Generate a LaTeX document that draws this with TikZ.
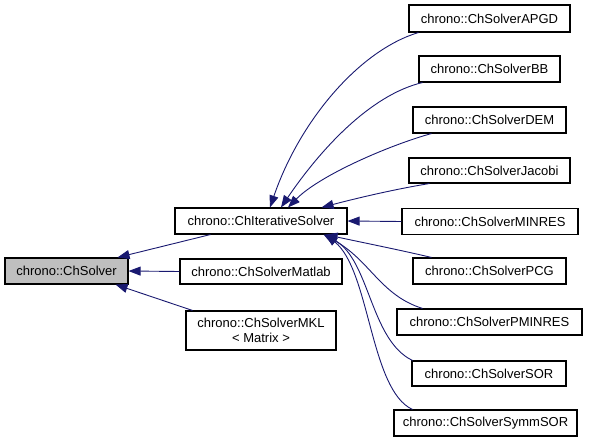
\documentclass[tikz,border=0pt]{standalone}
\usepackage{fontspec}
\setmainfont{Liberation Sans}
\usetikzlibrary{arrows.meta}
\definecolor{edgecol}{HTML}{191970}
\definecolor{basefill}{HTML}{BFBFBF}
\tikzset{
  cls/.style={draw=black, line width=1.1pt, fill=white, inner sep=0pt, align=center,
    font=\fontsize{13}{14.5}\selectfont},
  edge/.style={draw=edgecol, line width=0.9pt, -{Triangle[length=12pt,width=9pt]}},
}
\begin{document}
\begin{tikzpicture}[x=1pt,y=-1pt]
\useasboundingbox (0,0) rectangle (591,443);
\node[cls, fill=basefill, minimum width=123, minimum height=26] (solver) at (66.5,271) {chrono::ChSolver};
\node[cls, minimum width=172, minimum height=26] (iter) at (261,221) {chrono::ChIterativeSolver};
\node[cls, minimum width=162, minimum height=25] (matlab) at (261,271.5) {chrono::ChSolverMatlab};
\node[cls, minimum width=150, minimum height=39] (mkl) at (261,330.5) {chrono::ChSolverMKL\\\textless{} Matrix \textgreater{}};
\node[cls, minimum width=161, minimum height=27] (apgd) at (489.5,18.5) {chrono::ChSolverAPGD};
\node[cls, minimum width=141, minimum height=26] (bb) at (489.5,69) {chrono::ChSolverBB};
\node[cls, minimum width=153, minimum height=26] (dem) at (489.5,120) {chrono::ChSolverDEM};
\node[cls, minimum width=161, minimum height=25] (jacobi) at (489.5,170.5) {chrono::ChSolverJacobi};
\node[cls, minimum width=176, minimum height=26] (minres) at (490,221.5) {chrono::ChSolverMINRES};
\node[cls, minimum width=153, minimum height=26] (pcg) at (489.5,271) {chrono::ChSolverPCG};
\node[cls, minimum width=185, minimum height=26] (pminres) at (489.5,322) {chrono::ChSolverPMINRES};
\node[cls, minimum width=154, minimum height=25] (sor) at (489,373.5) {chrono::ChSolverSOR};
\node[cls, minimum width=183, minimum height=26] (symmsor) at (485.5,423) {chrono::ChSolverSymmSOR};

% edges to ChSolver
\draw[edge] ([xshift=36]iter.south west) -- ([xshift=-11]solver.north east);
\draw[edge] (matlab.west) -- (solver.east);
\draw[edge] ([xshift=7]mkl.north west) -- ([xshift=-13]solver.south east);

% edges to ChIterativeSolver
\draw[edge] ([xshift=10]apgd.south west) .. controls (360,50) and (300,120) .. ([xshift=9]iter.north);
\draw[edge] ([xshift=4]bb.south west) .. controls (370,95) and (320,150) .. ([xshift=20]iter.north);
\draw[edge] ([xshift=19]dem.south west) .. controls (390,145) and (320,175) .. ([xshift=27]iter.north);
\draw[edge] ([xshift=21]jacobi.south west) .. controls (390,190) and (350,200) .. ([xshift=-26]iter.north east);
\draw[edge] (minres.west) -- (iter.east);
\draw[edge] ([xshift=19]pcg.north west) .. controls (400,250) and (360,242) .. ([xshift=-22]iter.south east);
\draw[edge] ([xshift=26]pminres.north west) .. controls (380,295) and (370,260) .. ([xshift=-24]iter.south east);
\draw[edge] ([xshift=1]sor.north west) .. controls (370,340) and (370,260) .. ([xshift=-23]iter.south east);
\draw[edge] ([xshift=19]symmsor.north west) .. controls (370,390) and (370,270) .. ([xshift=-22]iter.south east);
\end{tikzpicture}
\end{document}
